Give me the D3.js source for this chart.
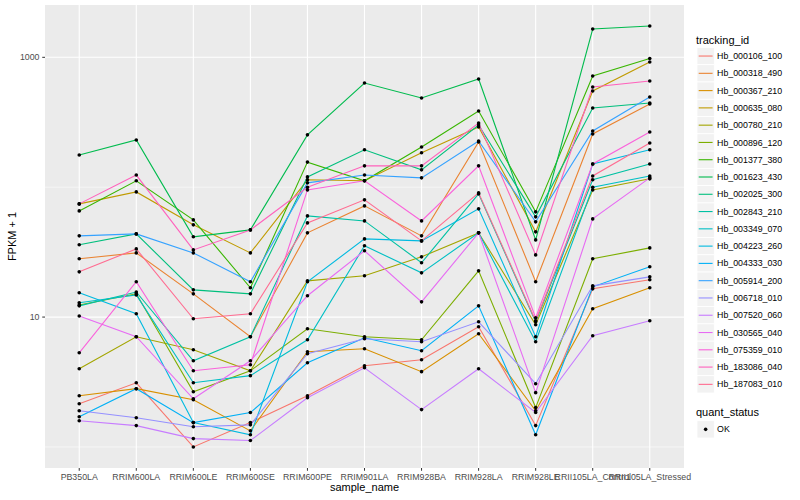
<!DOCTYPE html>
<html>
<head>
<meta charset="utf-8">
<title>FPKM by sample</title>
<script src="https://d3js.org/d3.v7.min.js"></script>
<style>
    body { margin: 0; background: #ffffff; }
    text { font-family: "Liberation Sans", Arial, Helvetica, sans-serif; }
</style>
</head>
<body>
<div id="chart"></div>
<script>

/* ------------------------------------------------------------
 *  Data
 * ------------------------------------------------------------ */
var samples = ["PB350LA", "RRIM600LA", "RRIM600LE", "RRIM600SE", "RRIM600PE", "RRIM901LA",
               "RRIM928BA", "RRIM928LA", "RRIM928LE", "RRII105LA_Control", "RRII105LA_Stressed"];

var trackingIds = ["Hb_000106_100", "Hb_000318_490", "Hb_000367_210", "Hb_000635_080", "Hb_000780_210",
                   "Hb_000896_120", "Hb_001377_380", "Hb_001623_430", "Hb_002025_300", "Hb_002843_210",
                   "Hb_003349_070", "Hb_004223_260", "Hb_004333_030", "Hb_005914_200", "Hb_006718_010",
                   "Hb_007520_060", "Hb_030565_040", "Hb_075359_010", "Hb_183086_040", "Hb_187083_010"];

// FPKM + 1, one value per sample (same order as samples)
var hb_000106_100 = [2.15, 3.12, 1.00, 1.54, 2.48, 4.22, 4.69, 8.42, 1.46, 16.5, 19.4];
var hb_000318_490 = [28.1, 31.2, 15.1, 7.06, 44.5, 71.8, 42.2, 223, 18.7, 257, 437];
var hb_000367_210 = [2.48, 2.81, 2.31, 1.33, 5.41, 5.70, 3.80, 7.44, 1.90, 11.6, 16.8];
var hb_000635_080 = [74.4, 92.0, 51.3, 31.2, 114, 112, 184, 291, 45.3, 551, 920];
var hb_000780_210 = [4.00, 7.06, 5.60, 3.86, 19.0, 20.8, 29.1, 44.5, 8.73, 95.3, 116];
var hb_000896_120 = [12.4, 15.1, 2.66, 3.86, 8.13, 7.06, 6.69, 22.7, 2.01, 28.1, 34.1];
var hb_001377_380 = [65.7, 112, 56.0, 16.8, 156, 112, 204, 386, 64.6, 718, 979];
var hb_001623_430 = [177, 231, 41.5, 46.9, 253, 634, 486, 681, 39.3, 1651, 1741];
var hb_002025_300 = [36.0, 43.7, 16.2, 15.1, 120, 194, 136, 301, 59.1, 407, 445];
var hb_002843_210 = [12.2, 15.6, 4.61, 7.06, 60.1, 55.0, 26.2, 88.8, 9.20, 114, 151];
var hb_003349_070 = [12.9, 14.8, 3.12, 3.54, 6.69, 35.4, 21.9, 44.5, 6.46, 100, 122];
var hb_004223_260 = [15.4, 10.6, 1.54, 1.24, 18.7, 40.0, 38.6, 68.1, 7.06, 151, 194];
var hb_004333_030 = [1.71, 2.81, 1.54, 1.84, 4.45, 6.93, 5.51, 12.2, 1.24, 17.1, 24.4];
var hb_005914_200 = [42.2, 43.7, 31.2, 18.7, 108, 124, 118, 227, 54.1, 271, 495];
var hb_006718_010 = [1.90, 1.68, 1.43, 1.48, 5.22, 6.81, 6.46, 9.20, 3.07, 17.4, 20.4];
var hb_007520_060 = [1.59, 1.46, 1.16, 1.12, 2.39, 4.07, 1.94, 4.00, 1.84, 7.18, 9.37];
var hb_030565_040 = [10.2, 7.06, 2.35, 4.61, 14.6, 32.4, 13.1, 44.5, 2.62, 57.0, 118];
var hb_075359_010 = [5.31, 18.7, 3.86, 4.30, 95.3, 112, 55.0, 146, 9.88, 151, 266];
var hb_183086_040 = [74.4, 124, 32.9, 46.9, 100, 146, 146, 312, 30.1, 591, 657];
var hb_187083_010 = [22.3, 33.5, 9.70, 10.6, 53.1, 79.9, 38.6, 90.4, 9.37, 122, 219];

var seriesValues = [hb_000106_100, hb_000318_490, hb_000367_210, hb_000635_080, hb_000780_210,
                    hb_000896_120, hb_001377_380, hb_001623_430, hb_002025_300, hb_002843_210,
                    hb_003349_070, hb_004223_260, hb_004333_030, hb_005914_200, hb_006718_010,
                    hb_007520_060, hb_030565_040, hb_075359_010, hb_183086_040, hb_187083_010];

var quantStatus = ["OK"];

// default ggplot hue palette for 20 levels
var palette = ["#F8766D", "#EA8331", "#D89000", "#C09B00", "#A3A500", "#7CAE00", "#39B600", "#00BB4E",
               "#00BF7D", "#00C1A3", "#00BFC4", "#00BAE0", "#00B0F6", "#35A2FF", "#9590FF", "#C77CFF",
               "#E76BF3", "#FA62DB", "#FF62BC", "#FF6C91"];

/* ------------------------------------------------------------
 *  Setup
 * ------------------------------------------------------------ */
var width = 800, height = 500;
var panel = {left: 45, right: 684, top: 5, bottom: 468};

var series = trackingIds.map(function(id, i) {
    return {id: id, color: palette[i], values: seriesValues[i].map(function(v, j) {
        return {sample: samples[j], value: v};
    })};
});

var svg = d3.select("#chart").append("svg")
    .attr("width", width)
    .attr("height", height);

// x: discrete with ggplot's 0.6 expansion
var x = d3.scalePoint()
    .domain(samples)
    .range([panel.left, panel.right])
    .padding(0.6);

// y: log10 with 5% expansion of the log range
var allValues = [].concat.apply([], seriesValues);
var lo = Math.log10(d3.min(allValues)), hi = Math.log10(d3.max(allValues));
var pad = (hi - lo) * 0.05;
var y = d3.scaleLog()
    .domain([Math.pow(10, lo - pad), Math.pow(10, hi + pad)])
    .range([panel.bottom, panel.top]);

var majorY = [10, 1000];
var minorY = [1, 100];

// panel background
svg.append("rect")
    .attr("x", panel.left).attr("y", panel.top)
    .attr("width", panel.right - panel.left)
    .attr("height", panel.bottom - panel.top)
    .attr("fill", "#EBEBEB");

var grid = svg.append("g");
grid.selectAll(".minor").data(minorY).enter().append("line")
    .attr("x1", panel.left).attr("x2", panel.right)
    .attr("y1", d => y(d)).attr("y2", d => y(d))
    .attr("stroke", "#ffffff").attr("stroke-width", 0.55);
grid.selectAll(".majorY").data(majorY).enter().append("line")
    .attr("x1", panel.left).attr("x2", panel.right)
    .attr("y1", d => y(d)).attr("y2", d => y(d))
    .attr("stroke", "#ffffff").attr("stroke-width", 1.1);
grid.selectAll(".majorX").data(samples).enter().append("line")
    .attr("x1", d => x(d)).attr("x2", d => x(d))
    .attr("y1", panel.top).attr("y2", panel.bottom)
    .attr("stroke", "#ffffff").attr("stroke-width", 1.1);

// lines
var line = d3.line()
    .x(d => x(d.sample))
    .y(d => y(d.value));

svg.append("g").selectAll("path")
    .data(series)
    .enter()
    .append("path")
    .attr("d", d => line(d.values))
    .attr("fill", "none")
    .attr("stroke", d => d.color)
    .attr("stroke-width", 1.1);

// points
var pts = [];
series.forEach(s => s.values.forEach(v => pts.push(v)));
svg.append("g").selectAll("circle")
    .data(pts)
    .enter()
    .append("circle")
    .attr("cx", d => x(d.sample))
    .attr("cy", d => y(d.value))
    .attr("r", 1.8)
    .attr("fill", "#000000");

/* ------------------------------------------------------------
 *  Axes
 * ------------------------------------------------------------ */
var yAxis = svg.append("g");
yAxis.selectAll("line").data(majorY).enter().append("line")
    .attr("x1", panel.left - 2.75).attr("x2", panel.left)
    .attr("y1", d => y(d)).attr("y2", d => y(d))
    .attr("stroke", "#333333").attr("stroke-width", 1);
yAxis.selectAll("text").data(majorY).enter().append("text")
    .attr("x", panel.left - 5.5)
    .attr("y", d => y(d))
    .attr("dy", "0.35em")
    .attr("text-anchor", "end")
    .attr("font-size", "8.8px")
    .attr("fill", "#4D4D4D")
    .text(d => d);

var xAxis = svg.append("g");
xAxis.selectAll("line").data(samples).enter().append("line")
    .attr("x1", d => x(d)).attr("x2", d => x(d))
    .attr("y1", panel.bottom).attr("y2", panel.bottom + 2.75)
    .attr("stroke", "#333333").attr("stroke-width", 1);
xAxis.selectAll("text").data(samples).enter().append("text")
    .attr("x", d => x(d))
    .attr("y", panel.bottom + 12.3)
    .attr("text-anchor", "middle")
    .attr("font-size", "8.8px")
    .attr("fill", "#4D4D4D")
    .text(d => d);

svg.append("text")
    .attr("x", (panel.left + panel.right) / 2)
    .attr("y", 490.5)
    .attr("text-anchor", "middle")
    .attr("font-size", "11px")
    .attr("fill", "#000000")
    .text("sample_name");

svg.append("text")
    .attr("transform", "translate(16," + ((panel.top + panel.bottom) / 2) + ") rotate(-90)")
    .attr("text-anchor", "middle")
    .attr("font-size", "11px")
    .attr("fill", "#000000")
    .text("FPKM + 1");

/* ------------------------------------------------------------
 *  Legends
 * ------------------------------------------------------------ */
var key = 17.28;
var legendX = 697;
var legend = svg.append("g");

legend.append("text")
    .attr("x", 696).attr("y", 43.5)
    .attr("font-size", "11px")
    .attr("fill", "#000000")
    .text("tracking_id");

var items = legend.selectAll(".item")
    .data(series)
    .enter()
    .append("g")
    .attr("transform", (d, i) => "translate(" + legendX + "," + (47.4 + i * key) + ")");
items.append("rect")
    .attr("width", key).attr("height", key)
    .attr("fill", "#F2F2F2")
    .attr("stroke", "#ffffff").attr("stroke-width", 0.8);
items.append("line")
    .attr("x1", 1.7).attr("x2", key - 1.7)
    .attr("y1", key / 2).attr("y2", key / 2)
    .attr("stroke", d => d.color)
    .attr("stroke-width", 1.1);
items.append("text")
    .attr("x", key + 2.8)
    .attr("y", key / 2)
    .attr("dy", "0.35em")
    .attr("font-size", "8.8px")
    .attr("fill", "#000000")
    .text(d => d.id);

legend.append("text")
    .attr("x", 696).attr("y", 415.5)
    .attr("font-size", "11px")
    .attr("fill", "#000000")
    .text("quant_status");

var qs = legend.selectAll(".qs")
    .data(quantStatus)
    .enter()
    .append("g")
    .attr("transform", (d, i) => "translate(" + legendX + "," + (420.7 + i * key) + ")");
qs.append("rect")
    .attr("width", key).attr("height", key)
    .attr("fill", "#F2F2F2")
    .attr("stroke", "#ffffff").attr("stroke-width", 0.8);
qs.append("circle")
    .attr("cx", key / 2).attr("cy", key / 2)
    .attr("r", 1.8)
    .attr("fill", "#000000");
qs.append("text")
    .attr("x", key + 2.8)
    .attr("y", key / 2)
    .attr("dy", "0.35em")
    .attr("font-size", "8.8px")
    .attr("fill", "#000000")
    .text(d => d);

</script>
</body>
</html>
